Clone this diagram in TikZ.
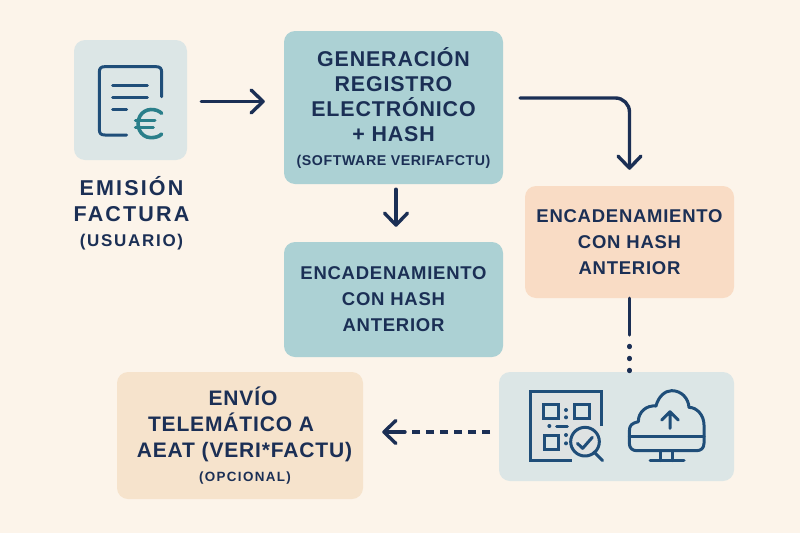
\documentclass[tikz,border=0pt]{standalone}
\usepackage{fontspec}
\setmainfont{Liberation Sans}
\newfontfamily\bigsp[LetterSpace=4,BoldFont={Liberation Sans Bold}]{Liberation Sans}
\newfontfamily\widesp[LetterSpace=10,BoldFont={Liberation Sans Bold}]{Liberation Sans}
\usetikzlibrary{arrows.meta}
\definecolor{bgc}{HTML}{FCF4EA}
\definecolor{iconbg}{HTML}{DCE6E6}
\definecolor{tealbox}{HTML}{ACD1D4}
\definecolor{peachbox}{HTML}{F9DCC5}
\definecolor{tanbox}{HTML}{F6E3CC}
\definecolor{navy}{HTML}{1B2F55}
\definecolor{iconblue}{HTML}{1F4E79}
\definecolor{euroteal}{HTML}{2A7F8A}
\definecolor{qrgray}{HTML}{DEE2E2}
\newcommand{\tA}{\bigsp\bfseries\fontsize{21.4}{25}\selectfont}
\newcommand{\tB}{\bigsp\bfseries\fontsize{18.5}{26}\selectfont}
\newcommand{\tS}{\bigsp\bfseries\fontsize{14.2}{16}\selectfont}
\newcommand{\tE}{\bigsp\bfseries\fontsize{21}{26}\selectfont}
\newcommand{\tO}{\widesp\bfseries\fontsize{13.4}{15}\selectfont}
\newcommand{\tF}{\widesp\bfseries\fontsize{21.5}{26}\selectfont}
\newcommand{\tU}{\widesp\bfseries\fontsize{17}{22}\selectfont}
\tikzset{
  boxn/.style={rounded corners=11pt,inner sep=0pt,align=center,text=navy},
  flow/.style={draw=navy,line width=3.4pt,line cap=round,line join=round,
    -{Straight Barb[length=12pt,width=23pt,line width=3.4pt,round]}},
  plainline/.style={draw=navy,line width=3.4pt,line cap=round},
  icon/.style={draw=iconblue,line width=3pt,line cap=round,line join=round},
  lbl/.style={align=center,text=navy,inner sep=0pt}
}
\begin{document}
\begin{tikzpicture}[x=1pt,y=-1pt]
\useasboundingbox (0,0) rectangle (800,533);
\fill[bgc] (0,0) rectangle (800,533);
% boxes
\node[boxn,fill=iconbg,minimum width=113pt,minimum height=120pt] (iconbox) at (130.5,100) {};
\node[boxn,fill=tealbox,minimum width=219pt,minimum height=153pt,font=\tA] (gen) at (393.5,107.5)
  {GENERACIÓN\\REGISTRO\\ELECTRÓNICO\\+ HASH\\[-1pt]{\tS (SOFTWARE VERIFAFCTU)}};
\node[boxn,fill=tealbox,minimum width=219pt,minimum height=115pt,font=\tB] (encA) at (393.5,299.5)
  {ENCADENAMIENTO\\CON HASH\\ANTERIOR};
\node[boxn,fill=peachbox,minimum width=209pt,minimum height=112pt,font=\tB] (encB) at (629.5,242)
  {ENCADENAMIENTO\\CON HASH\\ANTERIOR};
\node[boxn,fill=iconbg,minimum width=235pt,minimum height=109pt] (iconsR) at (616.5,426.5) {};
\node[boxn,fill=tanbox,minimum width=246pt,minimum height=127pt,font=\tE] (envio) at (240,435.5)
  {\kern 6pt ENVÍO\\TELEMÁTICO A\kern 18pt\null\\\kern 9pt AEAT (VERI*FACTU)\\[-2pt]\kern 10pt{\tO (OPCIONAL)}};
\node[lbl,font=\tF] (emision) at (131.5,213) {EMISIÓN\\FACTURA\\[-1pt]{\tU (USUARIO)}};
% connectors
\coordinate (a1s) at ([xshift=14pt,yshift=-1.5pt]iconbox.east);
\coordinate (a1e) at (gen.west |- a1s);
\draw[flow,shorten >=19pt] (a1s) -- (a1e);
\coordinate (a2s) at (520,98);
\coordinate (a2e) at (encB.north);
\draw[flow,rounded corners=14pt,shorten >=16pt] (a2s) -- (a2e |- a2s) -- (a2e);
\coordinate (a3e) at (gen.south -| 396,0);
\coordinate (a3f) at (encA.north -| 396,0);
\draw[flow,shorten <=5pt,shorten >=15pt] (a3e) -- (a3f);
\coordinate (lnk) at (encB.south |- 0,335);
\draw[plainline] (encB.south) -- (lnk);
\coordinate (lnkb) at (encB.south |- iconsR.north);
\draw[plainline,line width=4.4pt,dash pattern=on 1pt off 11pt,shorten >=0.5pt] (encB.south |- 0,346) -- (lnkb);
\coordinate (dashS) at (490,432);
\coordinate (dashE) at (412,432);
\coordinate (headS) at (405,432);
\coordinate (headE) at (envio.east |- dashS);
\draw[plainline,line cap=butt,dash pattern=on 8pt off 6pt] (dashS) -- (dashE);
\draw[flow,shorten >=19pt] (headS) -- (headE);
% document icon
\begin{scope}[shift={(60,30)},scale=1/3]
  \draw[icon] (200,315) -- (135,315) .. controls (122,315) and (118,310) .. (118,298) -- (118,127)
     .. controls (118,115) and (122,110) .. (135,110) -- (288,110) .. controls (300,110) and (305,115) .. (305,127) -- (305,200);
  \draw[icon] (158,165) -- (262,165) (158,202) -- (262,202) (158,238) -- (200,238);
  \draw[draw=euroteal,line width=3.6pt,line cap=round] (305,250) .. controls (290,235) and (255,232) .. (240,258)
     .. controls (225,285) and (240,322) .. (272,323) .. controls (285,323) and (298,320) .. (305,312);
  \draw[draw=euroteal,line width=3pt,line cap=round] (226,270) -- (285,270) (226,292) -- (280,292);
\end{scope}
% QR + cloud icons
\begin{scope}[shift={(490,300)},scale=1/3]
  \fill[qrgray] (122,275) rectangle (333,482);
  \fill[iconbg] (245,400) rectangle (340,490);
  \draw[icon,line cap=butt,line join=miter] (333,378) -- (333,275) -- (122,275) -- (122,482) -- (245,482);
  \draw[icon,line join=miter,fill=iconbg] (160,312) rectangle (205,355) (252,312) rectangle (297,355) (162,405) rectangle (205,448);
  \fill[iconblue] (228,330) circle (6) (228,352) circle (6) (178,378) circle (6) (228,405) circle (6) (228,430) circle (6);
  \draw[icon] (200,378) -- (232,378);
  \draw[icon,fill=qrgray] (285,425) circle (43);
  \draw[icon] (312,456) -- (338,482);
  \draw[icon] (262,430) -- (278,445) -- (307,412);
  \draw[icon] (418,430) -- (418,395) .. controls (418,375) and (425,370) .. (445,365)
    .. controls (445,335) and (470,315) .. (498,318) .. controls (505,290) and (525,272) .. (545,272)
    .. controls (575,272) and (595,295) .. (597,322) .. controls (620,322) and (642,345) .. (642,375)
    -- (642,430) .. controls (642,445) and (632,452) .. (620,452) -- (440,452) .. controls (428,452) and (418,445) .. (418,430);
  \draw[icon] (418,408) -- (642,408);
  \draw[icon] (540,385) -- (540,335) (515,360) -- (540,335) -- (565,360);
  \draw[icon] (512,452) -- (512,482) (548,452) -- (548,482) (480,482) -- (582,482);
\end{scope}
\end{tikzpicture}
\end{document}
